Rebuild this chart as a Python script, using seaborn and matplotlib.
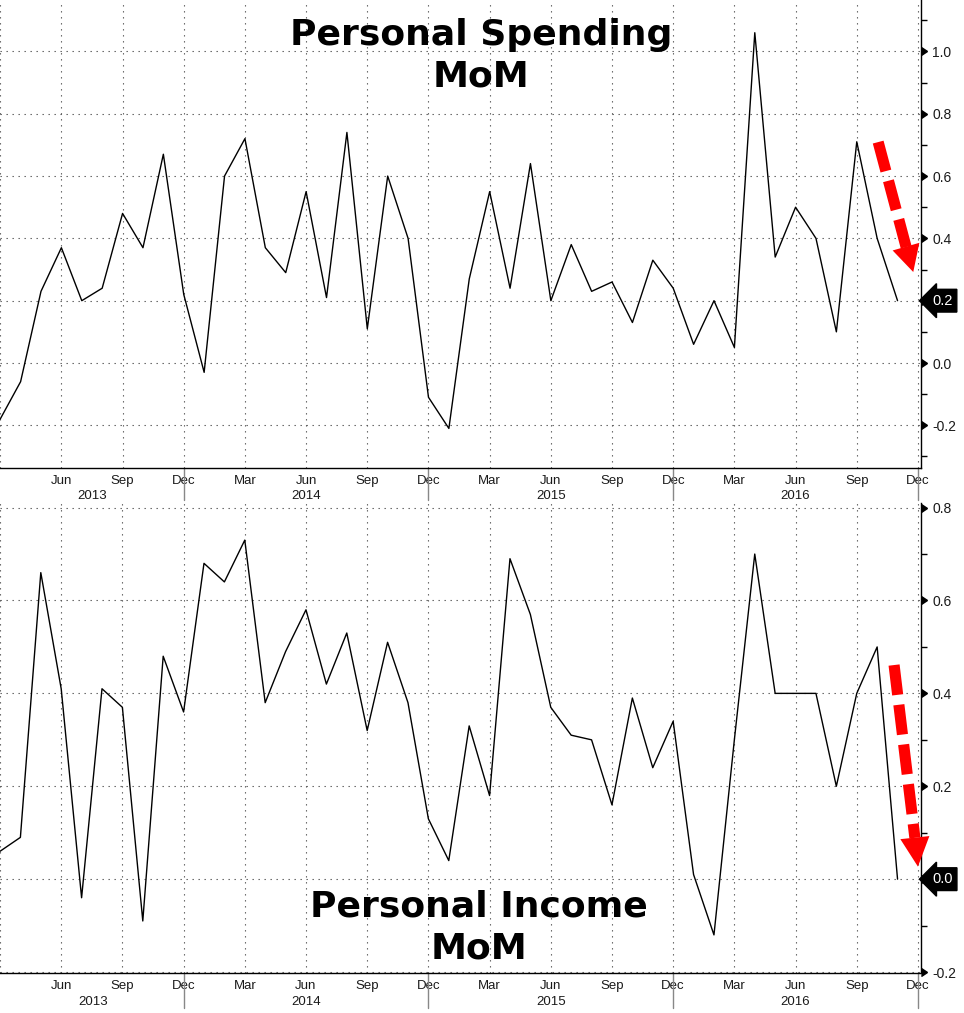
import numpy as np
import pandas as pd
import matplotlib
matplotlib.use("Agg")
import matplotlib.pyplot as plt
import matplotlib.transforms as mtransforms
import seaborn as sns

# months shown on the axis (data ends one month earlier)
axis_months = pd.date_range("2013-03-01", "2016-12-01", freq="MS")

# Personal Spending MoM (%), Mar 2013 - Nov 2016
spending = [-0.18, -0.06, 0.23, 0.37, 0.20, 0.24, 0.48, 0.37, 0.67, 0.22,
            -0.03, 0.60, 0.72, 0.37, 0.29, 0.55, 0.21, 0.74, 0.11, 0.60, 0.40, -0.11,
            -0.21, 0.27, 0.55, 0.24, 0.64, 0.20, 0.38, 0.23, 0.26, 0.13, 0.33, 0.24,
            0.06, 0.20, 0.05, 1.06, 0.34, 0.50, 0.40, 0.10, 0.71, 0.40, 0.20]

# Personal Income MoM (%), Mar 2013 - Nov 2016
income = [0.06, 0.09, 0.66, 0.41, -0.04, 0.41, 0.37, -0.09, 0.48, 0.36,
          0.68, 0.64, 0.73, 0.38, 0.49, 0.58, 0.42, 0.53, 0.32, 0.51, 0.38, 0.13,
          0.04, 0.33, 0.18, 0.69, 0.57, 0.37, 0.31, 0.30, 0.16, 0.39, 0.24, 0.34,
          0.01, -0.12, 0.30, 0.70, 0.40, 0.40, 0.40, 0.20, 0.40, 0.50, 0.00]

spend_ticks = [-0.2, 0.0, 0.2, 0.4, 0.6, 0.8, 1.0]
spend_minor = [-0.3, -0.1, 0.1, 0.3, 0.5, 0.7, 0.9, 1.1]
income_ticks = [-0.2, 0.0, 0.2, 0.4, 0.6, 0.8]
income_minor = [-0.1, 0.1, 0.3, 0.5, 0.7]

sns.set_style("white")
plt.rcParams["font.family"] = ["Liberation Sans", "DejaVu Sans"]

GRID_KW = dict(color="#555555", lw=0.8, linestyle=(0, (1.2, 4.2)))
LABEL_COLOR = "#1a1a1a"


def style_panel(ax, values, xlim, ylim, major, minor, year_y, sep_len):
    df = pd.DataFrame({"idx": np.arange(len(values)), "value": values})
    sns.lineplot(data=df, x="idx", y="value", ax=ax, color="black", lw=1.0)

    ax.set_xlim(xlim)
    ax.set_ylim(ylim)
    ax.set_xlabel("")
    ax.set_ylabel("")

    # x axis: monthly minor ticks, quarterly labels (none at the clipped left edge)
    idx = np.arange(len(axis_months))
    quarters = [i for i, m in enumerate(axis_months) if m.month in (3, 6, 9, 12)]
    ax.set_xticks(quarters)
    ax.set_xticklabels([axis_months[i].strftime("%b") if i > 0 else "" for i in quarters])
    ax.set_xticks(idx, minor=True)
    ax.tick_params(axis="x", which="both", direction="out", length=4, width=1,
                   color="black", labelsize=9.5, pad=1, labelcolor=LABEL_COLOR)

    # y axis on the right
    ax.yaxis.tick_right()
    ax.set_yticks(major)
    ax.set_yticklabels([f"{v:.1f}" for v in major])
    ax.set_yticks(minor, minor=True)
    ax.tick_params(axis="y", which="minor", direction="out", length=4, width=1, color="black")
    ax.tick_params(axis="y", which="major", direction="out", length=5, width=1,
                   color="black", labelsize=10, pad=3, labelcolor=LABEL_COLOR)
    for t in ax.yaxis.get_major_ticks():
        t.tick2line.set_marker(9)
        t.tick2line.set_markersize(6)

    for s in ["top", "left"]:
        ax.spines[s].set_visible(False)
    for s in ["right", "bottom"]:
        ax.spines[s].set_color("black")
        ax.spines[s].set_linewidth(1)

    ax.grid(False)
    for q in quarters:
        ax.axvline(q, zorder=0, **GRID_KW)
    for v in major:
        ax.axhline(v, zorder=0, **GRID_KW)

    # year separators and labels
    trans = mtransforms.blended_transform_factory(ax.transData, ax.transAxes)
    decs = [i for i, m in enumerate(axis_months) if m.month == 12]
    for d in decs:
        ax.axvline(d, ymin=-sep_len, ymax=0, clip_on=False, color="#888888", lw=1)
    edges = [xlim[0]] + decs
    years = sorted(set(m.year for m in axis_months))
    for y, a, b in zip(years, edges[:-1], edges[1:]):
        ax.text((a + b) / 2, year_y, str(y), transform=trans, ha="center",
                va="center", fontsize=9.5, color=LABEL_COLOR)

    # last value tag
    ytrans = mtransforms.blended_transform_factory(ax.transAxes, ax.transData)
    ax.text(1.012, values[-1], f"{values[-1]:.1f}", transform=ytrans, ha="left",
            va="center", color="white", fontsize=10.5, zorder=10,
            bbox=dict(boxstyle="larrow,pad=0.3", fc="black", ec="black"))


def red_arrow(ax, start, base, tip, head_len, head_w):
    ax.plot([start[0], base[0]], [start[1], base[1]], color="#ff0000", lw=8,
            dashes=(2.7, 0.9), solid_capstyle="butt", dash_capstyle="butt",
            zorder=6, clip_on=False)
    ax.annotate("", xy=tip, xytext=base, zorder=6,
                arrowprops=dict(arrowstyle=f"-|>,head_length={head_len},head_width={head_w}",
                                mutation_scale=10, color="#ff0000", lw=0,
                                shrinkA=0, shrinkB=0))


fig = plt.figure(figsize=(9.64, 10.13), dpi=100)
ax1 = fig.add_axes([0.0, 0.538, 0.9554, 0.462])
ax2 = fig.add_axes([0.0, 0.0395, 0.9554, 0.464])

style_panel(ax1, spending, (-0.01, 45.15), (-0.337, 1.165), spend_ticks, spend_minor,
            -0.06, 0.068)
style_panel(ax2, income, (0.11, 45.15), (-0.202, 0.81), income_ticks, income_minor,
            -0.062, 0.075)

ax1.text(0.522, 0.962, "Personal Spending\nMoM", transform=ax1.transAxes,
         ha="center", va="top", fontsize=26, fontweight="bold", color="black",
         family="DejaVu Sans", linespacing=1.3, zorder=5)
ax2.text(0.52, 0.177, "Personal Income\nMoM", transform=ax2.transAxes,
         ha="center", va="top", fontsize=26, fontweight="bold", color="black",
         family="DejaVu Sans", linespacing=1.3, zorder=5)

red_arrow(ax1, (43.05, 0.709), (44.42, 0.372), (44.77, 0.292), 1.9, 1.0)
red_arrow(ax2, (43.83, 0.461), (44.85, 0.089), (45.0, 0.027), 2.1, 1.05)

fig.savefig("out.png", dpi=100)
